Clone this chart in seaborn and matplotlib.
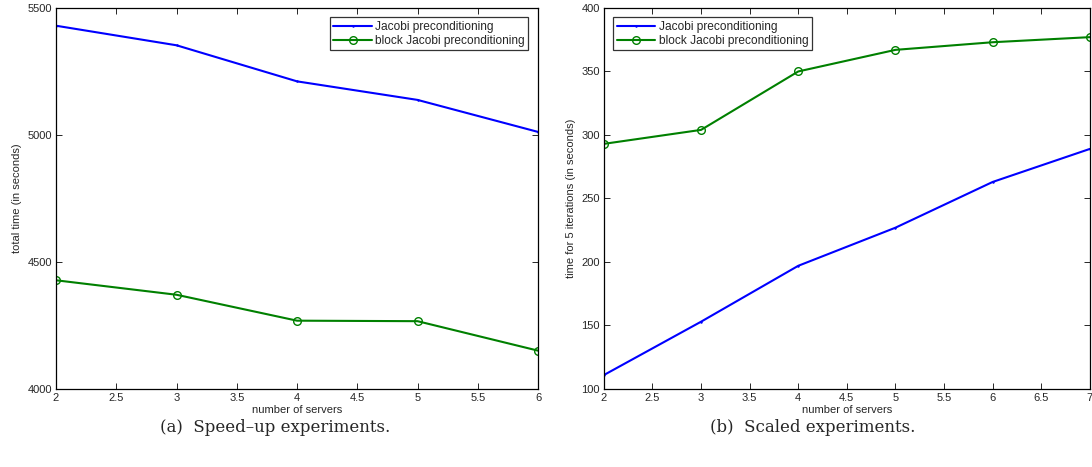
import matplotlib
matplotlib.use("Agg")
import matplotlib.pyplot as plt
import seaborn as sns

# speed-up experiments (a)
servers_a = [2, 3, 4, 5, 6]
jacobi_a = [5430, 5353, 5211, 5138, 5012]
block_a = [4428, 4371, 4269, 4267, 4151]

# scaled experiments (b)
servers_b = [2, 3, 4, 5, 6, 7]
jacobi_b = [111, 153, 197, 227, 263, 289]
block_b = [293, 304, 350, 367, 373, 377]

label_j = "Jacobi preconditioning"
label_b = "block Jacobi preconditioning"

sns.set_style("ticks")
plt.rcParams.update({
    "font.family": ["Liberation Sans", "DejaVu Sans"],
    "xtick.direction": "in",
    "ytick.direction": "in",
    "xtick.top": True,
    "ytick.right": True,
    "xtick.labelsize": 8,
    "ytick.labelsize": 8,
    "axes.linewidth": 0.9,
    "axes.edgecolor": "black",
})

fig = plt.figure(figsize=(10.92, 4.67), dpi=100)
ax1 = fig.add_axes([0.0513, 0.167, 0.4414, 0.816])
ax2 = fig.add_axes([0.553, 0.167, 0.445, 0.816])


def draw(ax, x, yj, yb, xlim, ylim, yticks, ylabel, loc):
    sns.lineplot(x=x, y=yj, ax=ax, color="#0000ff", lw=1.5, marker=".",
                 markersize=2, markeredgecolor="#0000ff", label=label_j)
    sns.lineplot(x=x, y=yb, ax=ax, color="#008000", lw=1.5, marker="o",
                 markersize=5.5, markerfacecolor="none", markeredgecolor="#008000",
                 markeredgewidth=1.0, label=label_b)
    ax.set_xlim(*xlim)
    ax.set_ylim(*ylim)
    ax.set_yticks(yticks)
    xt = [xlim[0] + 0.5 * i for i in range(int((xlim[1] - xlim[0]) * 2) + 1)]
    ax.set_xticks(xt)
    ax.set_xticklabels([f"{v:g}" for v in xt])
    ax.tick_params(length=4, width=0.7, pad=3)
    ax.set_xlabel("number of servers", fontsize=8, labelpad=1)
    ax.set_ylabel(ylabel, fontsize=8, labelpad=4)
    for s in ax.spines.values():
        s.set_visible(True)
    leg = ax.legend(loc=loc, fontsize=8.6, frameon=True, fancybox=False,
                    borderpad=0.3, labelspacing=0.15, handlelength=3.2,
                    handletextpad=0.3, borderaxespad=0.8)
    leg.get_frame().set_edgecolor("black")
    leg.get_frame().set_linewidth(0.9)


draw(ax1, servers_a, jacobi_a, block_a, (2, 6), (4000, 5500),
     [4000, 4500, 5000, 5500], "total time (in seconds)", "upper right")
draw(ax2, servers_b, jacobi_b, block_b, (2, 7), (100, 400),
     [100, 150, 200, 250, 300, 350, 400], "time for 5 iterations (in seconds)",
     "upper left")

fig.text(0.252, 0.085, "(a)  Speed\u2013up experiments.", ha="center", va="center",
         fontsize=12, family=["DejaVu Serif"])
fig.text(0.744, 0.085, "(b)  Scaled experiments.", ha="center", va="center",
         fontsize=12, family=["DejaVu Serif"])

fig.savefig("out.png", dpi=100)
